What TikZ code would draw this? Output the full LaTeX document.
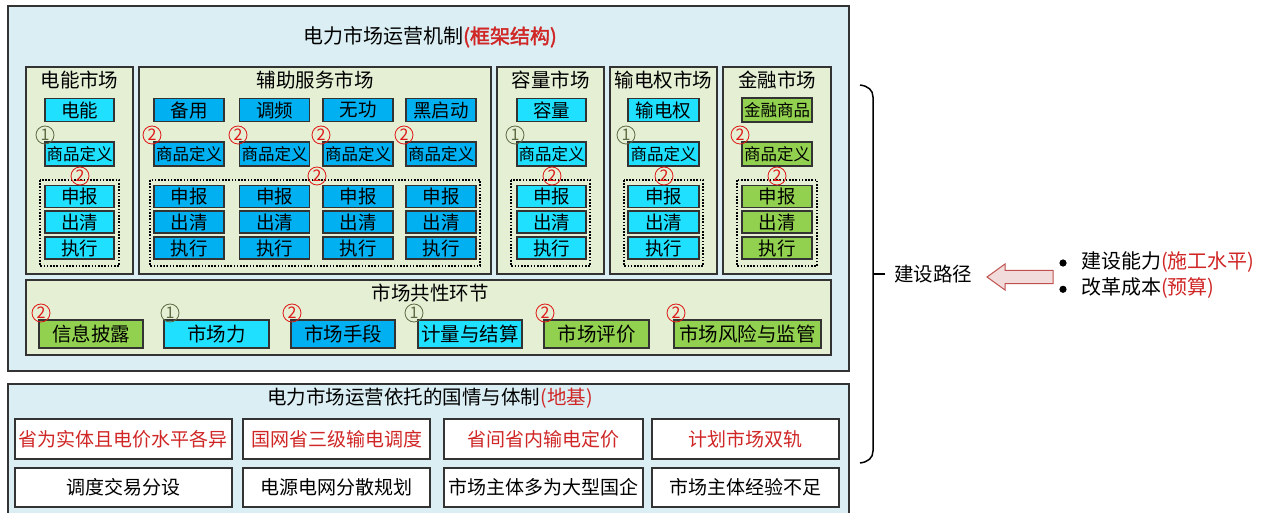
\documentclass[tikz,border=0pt]{standalone}
\usepackage{fontspec}
\setmainfont{Noto Sans CJK SC}[BoldFont={Noto Sans CJK SC},BoldFeatures={FakeBold=2}]
\definecolor{outerfill}{HTML}{DAEEF3}
\definecolor{panelfill}{HTML}{E4EFD4}
\definecolor{cyanbox}{HTML}{1FE1FF}
\definecolor{bluebox}{HTML}{00B0F0}
\definecolor{greenbox}{HTML}{92D050}
\definecolor{edge}{HTML}{333333}
\definecolor{redtxt}{HTML}{D02626}
\definecolor{redcirc}{HTML}{E01818}
\definecolor{olivecirc}{HTML}{5E6B45}
\definecolor{arrowfill}{HTML}{F2DCDB}
\definecolor{arrowedge}{HTML}{C0504D}
\newcommand{\fsz}[1]{\fontsize{#1}{#1}\selectfont}
\begin{document}
\begin{tikzpicture}[x=1pt,y=-1pt,
  frame/.style={draw=edge,line width=1.5pt,fill=outerfill},
  panel/.style={draw=edge,line width=1.5pt,fill=panelfill},
  cell/.style={draw=edge,line width=1.3pt,inner sep=0pt,minimum width=70pt,minimum height=23pt,font=\fsz{18.5}},
  defcell/.style={cell,minimum height=24pt,font=\fsz{16.5}},
  stepcell/.style={cell,minimum height=22pt},
  dotbox/.style={draw=black,line width=1.1pt,dash pattern=on 1.6pt off 1.6pt},
  title/.style={inner sep=0pt,font=\fsz{19.5}},
  cone/.style={circle,draw=olivecirc,text=olivecirc,line width=0.8pt,minimum size=18pt,inner sep=0pt,font=\fsz{16}},
  ctwo/.style={circle,draw=redcirc,text=redcirc,line width=0.8pt,minimum size=18pt,inner sep=0pt,font=\fsz{16}},
  common/.style={draw=edge,line width=1.3pt,inner sep=0pt,minimum height=28pt,font=\fsz{19.5}},
  base/.style={draw=edge,line width=1.3pt,fill=white,inner sep=0pt,font=\fsz{19}},
]
\useasboundingbox (0,0) rectangle (1264,513);
\fill[white] (0,0) rectangle (1264,513);
% outer frames
\draw[frame] (8,6) rectangle (849,371);
\draw[frame] (8,384) rectangle (849,530);
\node[title,font=\fsz{20}] (mtitle) at (430,37) {电力市场运营机制\textcolor{redtxt}{\textbf{(框架结构)}}};
% panels
\draw[panel] (26,67) rectangle (133,274);
\draw[panel] (139,67) rectangle (491,274);
\draw[panel] (497,67) rectangle (604,274);
\draw[panel] (610,67) rectangle (717,274);
\draw[panel] (723,67) rectangle (831,274);
\draw[panel] (26,280) rectangle (831,355);
\node[title] (tE) at (79.5,80) {电能市场};
\node[title] (tA) at (315,80) {辅助服务市场};
\node[title] (tC) at (550.5,80) {容量市场};
\node[title] (tT) at (663.5,80) {输电权市场};
\node[title] (tF) at (777,80) {金融市场};
\node[title] (tCom) at (430,293) {市场共性环节};
% dotted groups
\draw[dotbox] (40,180) rectangle (119,266);
\draw[dotbox] (150,180) rectangle (480,266);
\draw[dotbox] (511,180) rectangle (590,266);
\draw[dotbox] (624,180) rectangle (703,266);
\draw[dotbox] (737,180) rectangle (817,266);
% market columns
\foreach \x/\w/\t/\f/\n in {79.5/69/电能/cyanbox/E, 551.5/69/容量/cyanbox/C, 663.5/71/输电权/cyanbox/T, 189/70/备用/bluebox/A1, 274.5/70/调频/bluebox/A2, 358/70/无功/bluebox/A3, 441/70/黑启动/bluebox/A4}{
  \node[cell,fill=\f,minimum width=\w] (top\n) at (\x,110) {\t};
  \node[defcell,fill=\f,minimum width=\w] (def\n) at (\x,154) {商品定义};
  \node[stepcell,fill=\f,minimum width=\w] (bid\n) at (\x,196.5) {申报};
  \node[stepcell,fill=\f,minimum width=\w] (clr\n) at (\x,222) {出清};
  \node[stepcell,fill=\f,minimum width=\w] (exe\n) at (\x,248) {执行};
}
\node[defcell,fill=greenbox] (topF) at (777,110) {金融商品};
\node[defcell,fill=greenbox] (defF) at (777,154) {商品定义};
\node[stepcell,fill=greenbox] (bidF) at (777,196.5) {申报};
\node[stepcell,fill=greenbox] (clrF) at (777,222) {出清};
\node[stepcell,fill=greenbox] (exeF) at (777,248) {执行};
% circled marks
\node[cone] (mE1) at (45,135) {1};
\node[ctwo] (mE2) at (80,176) {2};
\node[ctwo] (mA1) at (152,135) {2};
\node[ctwo] (mA2) at (238,135) {2};
\node[ctwo] (mA3) at (321,135) {2};
\node[ctwo] (mA4) at (404,135) {2};
\node[ctwo] (mA5) at (317,176) {2};
\node[cone] (mC1) at (515,135) {1};
\node[ctwo] (mC2) at (552,176) {2};
\node[cone] (mT1) at (626,135) {1};
\node[ctwo] (mT2) at (664,176) {2};
\node[ctwo] (mF1) at (740,135) {2};
\node[ctwo] (mF2) at (777,176) {2};
% common links
\node[common,fill=greenbox,minimum width=104pt] (c1) at (91,334) {信息披露};
\node[common,fill=cyanbox,minimum width=105pt] (c2) at (216.5,334) {市场力};
\node[common,fill=bluebox,minimum width=104pt] (c3) at (343,334) {市场手段};
\node[common,fill=cyanbox,minimum width=104pt] (c4) at (470,334) {计量与结算};
\node[common,fill=greenbox,minimum width=105pt] (c5) at (596.5,334) {市场评价};
\node[common,fill=greenbox,minimum width=147pt] (c6) at (747.5,334) {市场风险与监管};
\node[ctwo] (mc1) at (41,313) {2};
\node[cone] (mc2) at (170,313) {1};
\node[ctwo] (mc3) at (292,313) {2};
\node[cone] (mc4) at (414,313) {1};
\node[ctwo] (mc5) at (545,313) {2};
\node[ctwo] (mc6) at (676,313) {2};
% base
\node[title] (btitle) at (430,398) {电力市场运营依托的国情与体制\textcolor{redtxt}{(地基)}};
\node[base,text=redtxt,minimum width=217pt,minimum height=40pt] (b1) at (123.5,439) {省为实体且电价水平各异};
\node[base,text=redtxt,minimum width=187pt,minimum height=40pt] (b2) at (336.5,439) {国网省三级输电调度};
\node[base,text=redtxt,minimum width=199pt,minimum height=40pt] (b3) at (543.5,439) {省间省内输电定价};
\node[base,text=redtxt,minimum width=187pt,minimum height=40pt] (b4) at (745.5,439) {计划市场双轨};
\node[base,minimum width=217pt,minimum height=39pt] (b5) at (123.5,487.5) {调度交易分设};
\node[base,minimum width=187pt,minimum height=39pt] (b6) at (336.5,487.5) {电源电网分散规划};
\node[base,minimum width=199pt,minimum height=39pt] (b7) at (543.5,487.5) {市场主体多为大型国企};
\node[base,minimum width=187pt,minimum height=39pt] (b8) at (745.5,487.5) {市场主体经验不足};
% right side
\draw[line width=1.5pt] (860,85) .. controls (868,86) and (873,90) .. (873,97) -- (873,451) .. controls (873,458) and (868,462) .. (860,463);
\node[title,anchor=west] (route) at (894,274.5) {建设路径};
\coordinate (tick) at (873,274);
\draw[line width=1.5pt] (tick) -- (885,274);
\draw[draw=arrowedge,fill=arrowfill,line width=1pt] (987,277) -- (1005,264) -- (1005,270.5) -- (1053,270.5) -- (1053,283.5) -- (1005,283.5) -- (1005,290) -- cycle;
\fill[black] (1063,263) circle (3.6);
\fill[black] (1063,289.3) circle (3.6);
\node[title,font=\fsz{20},anchor=west] (cap) at (1081,262) {建设能力\textcolor{redtxt}{(施工水平)}};
\node[title,font=\fsz{20},anchor=west] (cost) at (1081,288.5) {改革成本\textcolor{redtxt}{(预算)}};
\end{tikzpicture}
\end{document}
